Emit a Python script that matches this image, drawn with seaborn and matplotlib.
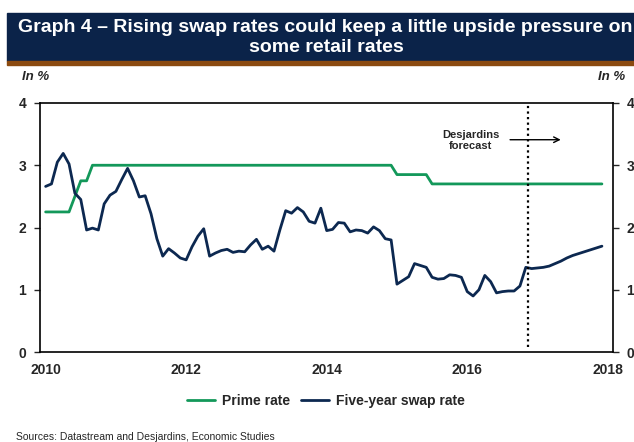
import numpy as np
import pandas as pd
import matplotlib
matplotlib.use("Agg")
import matplotlib.pyplot as plt
import seaborn as sns
from matplotlib.patches import Rectangle
from matplotlib.lines import Line2D

# ---------------- data ----------------
months = pd.date_range("2010-01-01", periods=96, freq="MS")

prime_rate = [
    2.25, 2.25, 2.25, 2.25, 2.25, 2.50, 2.75, 2.75, 3.00, 3.00, 3.00, 3.00,  # 2010
    3.00, 3.00, 3.00, 3.00, 3.00, 3.00, 3.00, 3.00, 3.00, 3.00, 3.00, 3.00,  # 2011
    3.00, 3.00, 3.00, 3.00, 3.00, 3.00, 3.00, 3.00, 3.00, 3.00, 3.00, 3.00,  # 2012
    3.00, 3.00, 3.00, 3.00, 3.00, 3.00, 3.00, 3.00, 3.00, 3.00, 3.00, 3.00,  # 2013
    3.00, 3.00, 3.00, 3.00, 3.00, 3.00, 3.00, 3.00, 3.00, 3.00, 3.00, 3.00,  # 2014
    2.85, 2.85, 2.85, 2.85, 2.85, 2.85, 2.70, 2.70, 2.70, 2.70, 2.70, 2.70,  # 2015
    2.70, 2.70, 2.70, 2.70, 2.70, 2.70, 2.70, 2.70, 2.70, 2.70, 2.70, 2.70,  # 2016
    2.70, 2.70, 2.70, 2.70, 2.70, 2.70, 2.70, 2.70, 2.70, 2.70, 2.70, 2.70,  # 2017
]

swap_rate = [
    2.66, 2.70, 3.05, 3.19, 3.02, 2.55, 2.45, 1.96, 1.99, 1.96, 2.38, 2.52,  # 2010
    2.58, 2.77, 2.95, 2.75, 2.49, 2.51, 2.22, 1.82, 1.54, 1.66, 1.59, 1.51,  # 2011
    1.48, 1.69, 1.86, 1.98, 1.54, 1.59, 1.63, 1.65, 1.60, 1.62, 1.61, 1.72,  # 2012
    1.81, 1.65, 1.70, 1.62, 1.96, 2.27, 2.23, 2.32, 2.25, 2.10, 2.07, 2.31,  # 2013
    1.95, 1.97, 2.08, 2.07, 1.93, 1.96, 1.95, 1.91, 2.01, 1.95, 1.82, 1.80,  # 2014
    1.09, 1.15, 1.21, 1.42, 1.39, 1.36, 1.20, 1.17, 1.18, 1.24, 1.23, 1.20,  # 2015
    0.97, 0.90, 1.00, 1.23, 1.13, 0.95, 0.97, 0.98, 0.98, 1.06, 1.36, 1.34,  # 2016
    1.35, 1.36, 1.38, 1.42, 1.46, 1.51, 1.55, 1.58, 1.61, 1.64, 1.67, 1.70,  # 2017
]

x_ticks = [2010, 2012, 2014, 2016, 2018]
y_ticks = [0, 1, 2, 3, 4]
forecast_start = 2016.86

series_names = ["Prime rate", "Five-year swap rate"]
colors = {"Prime rate": "#13985a", "Five-year swap rate": "#0c2850"}

# decimal years
year_frac = months.year + (months.month - 1) / 12.0
df = pd.DataFrame({
    "year": np.concatenate([year_frac, year_frac]),
    "value": prime_rate + swap_rate,
    "series": [series_names[0]] * 96 + [series_names[1]] * 96,
})

# ---------------- figure ----------------
sns.set_style("white")
plt.rcParams["font.family"] = ["Liberation Sans", "DejaVu Sans"]

fig = plt.figure(figsize=(6.34, 4.42), dpi=100)
ax = fig.add_axes([40 / 634, 1 - 352 / 442, (612.7 - 40) / 634, (352 - 103) / 442])

sns.lineplot(data=df, x="year", y="value", hue="series", palette=colors,
             hue_order=series_names, linewidth=2.0, ax=ax, legend=False)

ax.set_xlim(2009.92, 2018.07)
ax.set_ylim(0, 4)
ax.set_xlabel("")
ax.set_ylabel("")

for s in ax.spines.values():
    s.set_visible(True)
    s.set_color("black")
    s.set_linewidth(1.2)

ax.set_xticks(x_ticks)
ax.set_xticklabels([str(t) for t in x_ticks], fontweight="bold", fontsize=10)
ax.tick_params(axis="x", length=0, pad=8)

ax.set_yticks(y_ticks)
ax.set_yticklabels([str(t) for t in y_ticks], fontweight="bold", fontsize=10)
ax.tick_params(axis="y", which="both", direction="out", length=4, width=1.0,
               left=True, right=True, labelleft=True, labelright=True, pad=6)

# forecast line
ax.plot([forecast_start, forecast_start], [0.08, 3.98], color="black",
        linestyle=(0, (1, 1.5)), linewidth=1.6)
ax.text(2016.05, 3.40, "Desjardins\nforecast", ha="center", va="center",
        fontsize=8, fontweight="bold", linespacing=1.15)
ax.annotate("", xy=(2017.37, 3.41), xytext=(2016.57, 3.41),
            arrowprops=dict(arrowstyle="->", color="black", lw=1.0))

# title bar
fig.patches.append(Rectangle((7 / 634, 1 - 61 / 442), 1, 48 / 442,
                             transform=fig.transFigure, color="#0b2349", zorder=0))
fig.patches.append(Rectangle((7 / 634, 1 - 65 / 442), 1, 4 / 442,
                             transform=fig.transFigure, color="#8b4a10", zorder=0))
fig.text(325 / 634, 1 - 27 / 442,
         "Graph 4 – Rising swap rates could keep a little upside pressure on",
         color="white", fontsize=14, fontweight="bold", ha="center", va="center")
fig.text(326 / 634, 1 - 47 / 442, "some retail rates",
         color="white", fontsize=14, fontweight="bold", ha="center", va="center")

# unit labels
fig.text(22 / 634, 1 - 77 / 442, "In %", fontsize=9.5, fontweight="bold",
         fontstyle="italic", ha="left", va="center")
fig.text(625 / 634, 1 - 77 / 442, "In %", fontsize=9.5, fontweight="bold",
         fontstyle="italic", ha="right", va="center")

# legend
handles = [Line2D([0], [0], color=colors[n], lw=2) for n in series_names]
leg = fig.legend(handles, series_names, loc="center", bbox_to_anchor=(326 / 634, 1 - 401 / 442),
                 ncol=2, frameon=False, prop={"weight": "bold", "size": 10},
                 handlelength=2.0, handletextpad=0.5, columnspacing=0.8)

fig.text(16 / 634, 1 - 437 / 442, "Sources: Datastream and Desjardins, Economic Studies",
         fontsize=7.5, ha="left", va="center")

fig.savefig("out.png", dpi=100)
